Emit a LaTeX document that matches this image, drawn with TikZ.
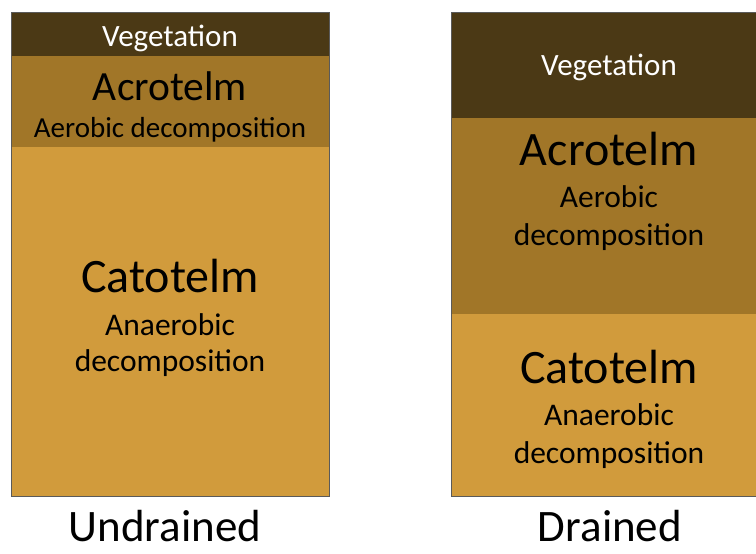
\documentclass[tikz,border=0pt]{standalone}
\usepackage{fontspec}
\setmainfont{Carlito}
\usepackage{xcolor}
\usepackage{tikz}
\usetikzlibrary{positioning}

\definecolor{vegcol}{HTML}{4B3915}
\definecolor{acrocol}{HTML}{A17628}
\definecolor{catocol}{HTML}{D19B3C}
\definecolor{edgecol}{HTML}{5A5A5A}

\begin{document}
\begin{tikzpicture}[
      x=1pt, y=-1pt,
      layer/.style={draw=edgecol, line width=1pt},
      txt/.style={anchor=base, inner sep=0pt},
      big/.style={txt, font=\fontsize{48}{52}\selectfont},
      mid/.style={txt, font=\fontsize{31.5}{36}\selectfont},
      veg/.style={txt, text=white, font=\fontsize{31}{36}\selectfont},
      caption/.style={txt, font=\fontsize{45}{50}\selectfont}
    ]
      \useasboundingbox (0,0) rectangle (756,554);
      \clip (0,0) rectangle (756,554);
      % undrained column
      \fill[vegcol] (11,12) rectangle (329,56);
      \fill[acrocol] (11,56) rectangle (329,147);
      \fill[catocol] (11,147) rectangle (329,496);
      \draw[layer] (11,12) rectangle (329,496);
      \node[veg] (vegA) at (170,46) {Vegetation};
      \node[txt, font=\fontsize{41.5}{46}\selectfont] (acroA) at (170,100) {Acrotelm};
      \node[txt, font=\fontsize{29}{34}\selectfont] (aeroA) at (170,137) {Aerobic decomposition};
      \node[big] (catoA) at (170,292) {Catotelm};
      \node[mid] (anaeA) at (170,335) {Anaerobic};
      \node[mid] (decoA) at (170,371) {decomposition};
      \node[caption] (undr) at (165,541) {Undrained};
      % drained column
      \fill[vegcol] (451,12) rectangle (767,118);
      \fill[acrocol] (451,118) rectangle (767,314);
      \fill[catocol] (451,314) rectangle (767,496);
      \draw[layer] (451,12) rectangle (767,496);
      \node[veg] (vegB) at (609,75) {Vegetation};
      \node[big] (acroB) at (609,165) {Acrotelm};
      \node[mid] (aeroB) at (609,207) {Aerobic};
      \node[mid] (decoB) at (609,245) {decomposition};
      \node[big] (catoB) at (609,383) {Catotelm};
      \node[mid] (anaeB) at (609,425) {Anaerobic};
      \node[mid] (decoC) at (609,463) {decomposition};
      \node[caption] (drai) at (610,541) {Drained};
\end{tikzpicture}
\end{document}
